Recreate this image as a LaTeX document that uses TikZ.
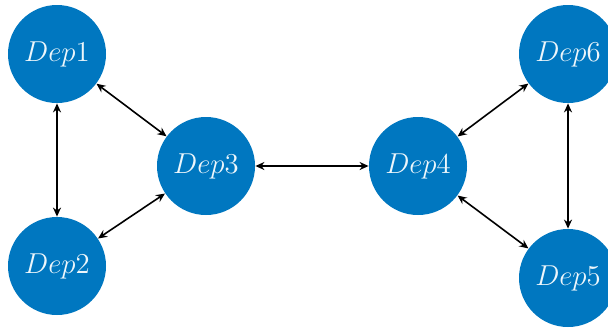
\documentclass[tikz,border=0pt]{standalone}
\usetikzlibrary{arrows.meta}
\definecolor{depblue}{RGB}{0,119,192}
\begin{document}
\begin{tikzpicture}[x=0.5pt,y=-0.5pt,
  dep/.style={circle,fill=depblue,draw=none,minimum size=49pt,inner sep=0pt,
    text=white!93!depblue,font=\Large},
  link/.style={{Stealth[length=4.5pt,width=4pt]}-{Stealth[length=4.5pt,width=4pt]},line width=0.8pt,black}]
  \useasboundingbox (0,0) rectangle (608,332);
  \node[dep] (d1) at (57,54) {$Dep1$};
  \node[dep] (d2) at (57,266) {$Dep2$};
  \node[dep] (d3) at (206,166) {$Dep3$};
  \node[dep] (d4) at (418,166) {$Dep4$};
  \node[dep] (d6) at (568,54) {$Dep6$};
  \node[dep] (d5) at (568,278) {$Dep5$};
  \draw[link] (d1) -- (d2);
  \draw[link] (d1) -- (d3);
  \draw[link] (d2) -- (d3);
  \draw[link] (d3) -- (d4);
  \draw[link] (d4) -- (d6);
  \draw[link] (d4) -- (d5);
  \draw[link] (d6) -- (d5);
\end{tikzpicture}
\end{document}
